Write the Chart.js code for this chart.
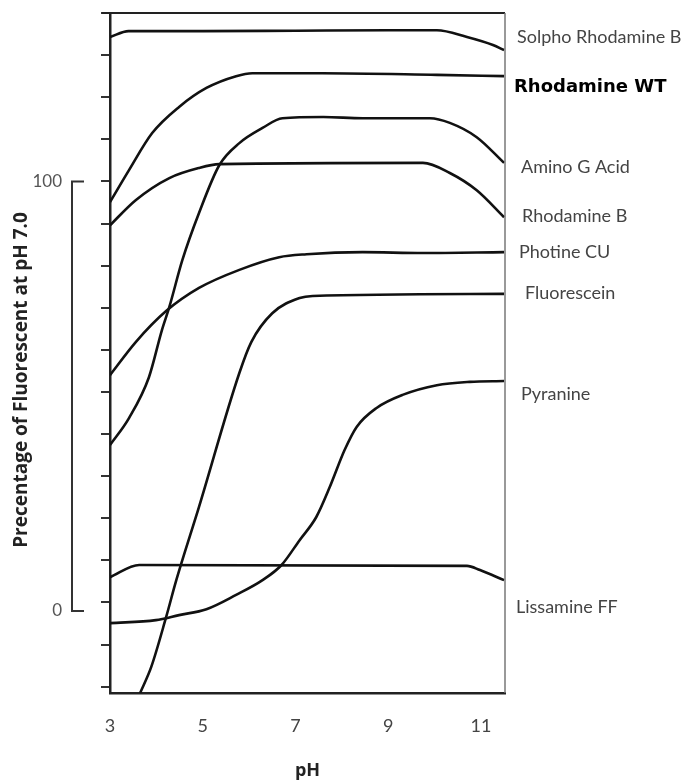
<!DOCTYPE html>
<html>
<head>
<meta charset="utf-8">
<script src="https://cdn.jsdelivr.net/npm/chart.js@4.4.1/dist/chart.umd.min.js"></script>
<style>
html,body{margin:0;padding:0;background:#fff;}
#wrap{width:688px;height:783px;}
</style>
</head>
<body>
<div id="wrap"><canvas id="chart" width="688" height="783"></canvas></div>
<script>
// tick values
const xTicks=[3,5,7,9,11];
const yTicks=[-20,-10,0,10,20,30,40,50,60,70,80,90,100,110,120,130,140];

// series (pH, % of fluorescence)
const seriesNames=['Solpho Rhodamine B','Rhodamine WT','Amino G Acid','Rhodamine B','Photine CU','Fluorescein','Pyranine','Lissamine FF'];

const solphoPH=[3.0,3.4,5.0,7.0,9.0,10.05,10.7,11.26,11.5];
const solphoVal=[134.3,135.7,135.7,135.8,135.9,135.9,134.3,132.4,131.2];

const rhodWtPH=[3.0,3.41,3.91,4.49,5.08,5.72,6.07,7.58,10.05,11.5];
const rhodWtVal=[95.1,102.7,111.5,117.7,122.2,125.0,125.7,125.7,125.3,125.0];

const aminoPH=[3.0,3.41,3.84,4.12,4.28,4.56,4.92,5.36,5.79,6.29,6.72,7.6,8.45,9.9,10.33,10.91,11.5];
const aminoVal=[37.4,43.8,53.5,64.7,70.2,81.3,92.5,103.9,109.1,112.7,115.0,115.3,115.0,115.0,113.9,110.5,104.4];

const rhodBPH=[3.0,3.56,4.28,4.92,5.36,9.75,10.33,10.91,11.5];
const rhodBVal=[89.6,95.6,100.8,103.2,104.1,104.4,102.0,97.9,91.5];

const photinePH=[3.0,3.56,4.21,4.92,5.79,6.65,7.24,8.45,9.75,11.5];
const photineVal=[54.0,61.9,69.2,74.7,79.0,82.0,82.7,83.2,83.0,83.2];

const fluorPH=[3.65,3.89,4.21,4.43,4.92,5.79,6.05,6.5,7.09,7.37,11.5];
const fluorVal=[-21.5,-15.3,-3.5,5.3,22.7,54.5,61.9,68.7,72.3,72.8,73.3];

const pyraninePH=[3.0,3.99,4.49,5.08,5.72,6.29,6.7,7.09,7.45,7.74,8.06,8.32,8.75,9.31,10.05,10.76,11.5];
const pyranineVal=[-4.9,-4.2,-3.0,-1.6,1.8,5.3,8.9,14.8,20.3,27.4,36.2,41.7,46.2,49.3,51.6,52.4,52.6];

const lissPH=[3.0,3.63,10.7,10.98,11.5];
const lissVal=[6.0,8.9,8.7,7.7,5.3];

const seriesPH=[solphoPH,rhodWtPH,aminoPH,rhodBPH,photinePH,fluorPH,pyraninePH,lissPH];
const seriesVal=[solphoVal,rhodWtVal,aminoVal,rhodBVal,photineVal,fluorVal,pyranineVal,lissVal];

const yTitle='Precentage of Fluorescent at pH 7.0';
const xTitle='pH';
const bracketTop=100, bracketBottom=-2;

// label placement next to line ends (pixels)
const labelDx=[12,9,16,17,14,20,16,11];
const labelDy=[-13,11,4,-1,0,-1,13,27];

const datasets=seriesNames.map((name,i)=>({
 label:name,
 data:seriesPH[i].map((x,j)=>({x,y:seriesVal[i][j]})),
 borderColor:'#111',
 borderWidth:2.6,
 pointRadius:0,
 fill:false,
 cubicInterpolationMode:'monotone'
}));

const decor={
 id:'decor',
 afterDraw(chart){
  const {ctx,chartArea:a,scales:{y}}=chart;
  ctx.save();
  // top and right frame
  ctx.strokeStyle='#222';ctx.lineWidth=2;
  ctx.beginPath();ctx.moveTo(102,a.top);ctx.lineTo(a.right,a.top);ctx.stroke();
  ctx.strokeStyle='#777';ctx.lineWidth=1.5;
  ctx.beginPath();ctx.moveTo(a.right,a.top);ctx.lineTo(a.right,a.bottom);ctx.stroke();
  // 0-100 bracket
  const bt=y.getPixelForValue(bracketTop),bb=y.getPixelForValue(bracketBottom);
  ctx.strokeStyle='#333';ctx.lineWidth=2;
  ctx.beginPath();ctx.moveTo(84,bt);ctx.lineTo(72,bt);ctx.lineTo(72,bb);ctx.lineTo(84,bb);ctx.stroke();
  ctx.fillStyle='#555';ctx.font='17px Lato';ctx.textAlign='right';ctx.textBaseline='middle';
  ctx.fillText('100',62,bt);
  ctx.fillText('0',62,bb);
  // y title
  ctx.save();
  ctx.translate(22,380);ctx.rotate(-Math.PI/2);
  ctx.textAlign='center';ctx.fillStyle='#222';ctx.font='bold 19px "Open Sans"';
  ctx.fillText(yTitle,0,0);
  ctx.restore();
  // series names
  ctx.textAlign='left';
  chart.data.datasets.forEach((ds,i)=>{
   const pts=chart.getDatasetMeta(i).data;
   const p=pts[pts.length-1];
   if(i===1){ctx.font='bold 18px "DejaVu Sans"';ctx.fillStyle='#000';}
   else{ctx.font='18px Lato';ctx.fillStyle='#444';}
   ctx.fillText(ds.label,a.right+labelDx[i],p.y+labelDy[i]);
  });
  ctx.restore();
 }
};

new Chart(document.getElementById('chart'),{
 type:'line',
 data:{datasets},
 options:{
  responsive:false,
  animation:false,
  layout:{padding:{left:0,right:183,top:13,bottom:0}},
  plugins:{legend:{display:false},tooltip:{enabled:false}},
  scales:{
   x:{
    type:'linear',min:3,max:11.52,
    afterBuildTicks:s=>{s.ticks=xTicks.map(v=>({value:v}));},
    afterFit:s=>{s.height=90;},
    grid:{display:false},
    border:{display:true,color:'#222',width:2.5},
    ticks:{color:'#444',font:{family:'Lato',size:18},padding:14,maxRotation:0},
    title:{display:true,text:xTitle,color:'#222',font:{family:'Open Sans',size:18,weight:'bold'},padding:{top:0,bottom:1}}
   },
   y:{
    type:'linear',min:-21.5,max:140,
    afterBuildTicks:s=>{s.ticks=yTicks.map(v=>({value:v}));},
    afterFit:s=>{s.width=110;},
    grid:{display:true,drawOnChartArea:false,drawTicks:true,tickLength:9,color:'#333',lineWidth:2},
    border:{display:true,color:'#222',width:2.5},
    ticks:{display:false}
   }
  }
 },
 plugins:[decor]
});
</script>
</body>
</html>
